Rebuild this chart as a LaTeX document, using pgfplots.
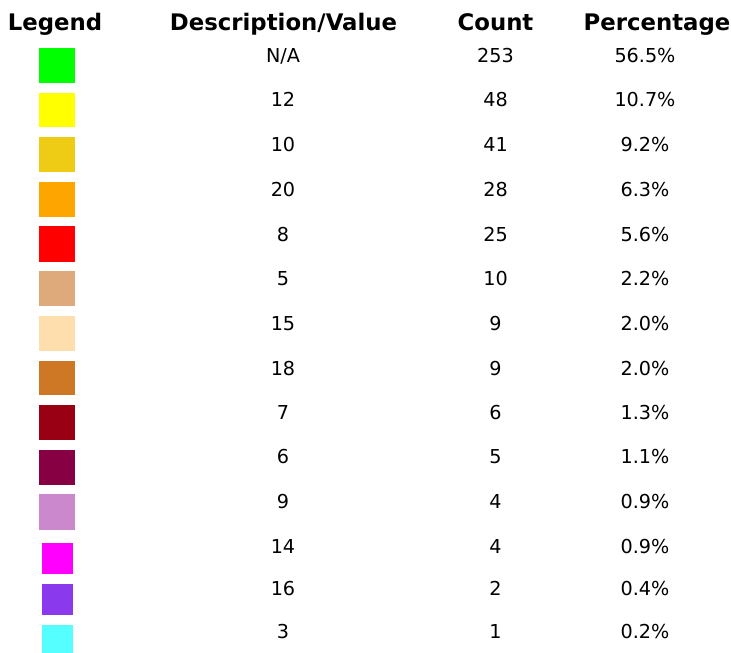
\documentclass[border=0pt]{standalone}
\usepackage{fontspec}
\setmainfont{DejaVu Sans}
\usepackage{pgfplots}
\usepackage{pgfplotstable}
\pgfplotsset{compat=1.18}

\definecolor{c1}{RGB}{0,255,0}
\definecolor{c2}{RGB}{255,255,0}
\definecolor{c3}{RGB}{238,204,22}
\definecolor{c4}{RGB}{255,165,0}
\definecolor{c5}{RGB}{255,0,0}
\definecolor{c6}{RGB}{222,170,123}
\definecolor{c7}{RGB}{255,222,173}
\definecolor{c8}{RGB}{206,119,36}
\definecolor{c9}{RGB}{153,0,20}
\definecolor{c10}{RGB}{136,0,68}
\definecolor{c11}{RGB}{204,136,204}
\definecolor{c12}{RGB}{255,0,255}
\definecolor{c13}{RGB}{138,58,236}
\definecolor{c14}{RGB}{85,255,255}

% baseline (px from top), description, count, percentage
\pgfplotstableread{
yb     desc  count pct
62.7   N/A   253   56.5
106.7  12    48    10.7
151.7  10    41    9.2
196.7  20    28    6.3
241.7  8     25    5.6
285.7  5     10    2.2
330.0  15    9     2.0
375.0  18    9     2.0
419.3  7     6     1.3
463.3  6     5     1.1
508.3  9     4     0.9
553.3  14    4     0.9
595.0  16    2     0.4
638.3  3     1     0.2
}\rows

\begin{document}
\begin{tikzpicture}
\begin{axis}[
  name=ax,
  width=731pt, height=653pt, scale only axis,
  xmin=0, xmax=731, ymin=0, ymax=653, y dir=reverse,
  hide axis, clip=false,
  every node near coord/.style={anchor=base, inner sep=0pt, font=\fontsize{19.2}{22}\selectfont, text=black},
]
% swatches: x0 x1 ytop ybottom
\addplot[fill=c1, draw=none] coordinates {(39,48) (75,48) (75,83) (39,83)} -- cycle;
\addplot[fill=c2, draw=none] coordinates {(39,93) (75,93) (75,127) (39,127)} -- cycle;
\addplot[fill=c3, draw=none] coordinates {(39,137) (75,137) (75,172) (39,172)} -- cycle;
\addplot[fill=c4, draw=none] coordinates {(39,182) (75,182) (75,217) (39,217)} -- cycle;
\addplot[fill=c5, draw=none] coordinates {(39,226) (75,226) (75,262) (39,262)} -- cycle;
\addplot[fill=c6, draw=none] coordinates {(39,271) (75,271) (75,306) (39,306)} -- cycle;
\addplot[fill=c7, draw=none] coordinates {(39,316) (75,316) (75,351) (39,351)} -- cycle;
\addplot[fill=c8, draw=none] coordinates {(39,361) (75,361) (75,395) (39,395)} -- cycle;
\addplot[fill=c9, draw=none] coordinates {(39,405) (75,405) (75,440) (39,440)} -- cycle;
\addplot[fill=c10, draw=none] coordinates {(39,450) (75,450) (75,485) (39,485)} -- cycle;
\addplot[fill=c11, draw=none] coordinates {(39,494) (75,494) (75,530) (39,530)} -- cycle;
\addplot[fill=c12, draw=none] coordinates {(42,543) (73,543) (73,574) (42,574)} -- cycle;
\addplot[fill=c13, draw=none] coordinates {(42,584) (73,584) (73,615) (42,615)} -- cycle;
\addplot[fill=c14, draw=none] coordinates {(42,625) (73,625) (73,653) (42,653)} -- cycle;

% text columns
\addplot[draw=none, mark=none, nodes near coords, point meta=explicit symbolic]
  table[x expr=283, y=yb, meta=desc] {\rows};
\addplot[draw=none, mark=none, nodes near coords, point meta=explicit symbolic]
  table[x expr=495.5, y=yb, meta=count] {\rows};
\addplot[draw=none, mark=none, nodes near coords={\pgfplotspointmeta\%}, point meta=explicit symbolic]
  table[x expr=645, y=yb, meta=pct] {\rows};

% headers
\begin{scope}[every node/.style={anchor=base, inner sep=0pt, font=\fontsize{22.8}{26}\selectfont\bfseries}]
\node at (axis cs:55,30) {Legend};
\node at (axis cs:283.5,30) {Description/Value};
\node at (axis cs:495.5,30) {Count};
\node at (axis cs:657,30) {Percentage};
\end{scope}
\end{axis}
\pgfresetboundingbox
\path[use as bounding box] (ax.south west) rectangle (ax.north east);
\end{tikzpicture}
\end{document}
